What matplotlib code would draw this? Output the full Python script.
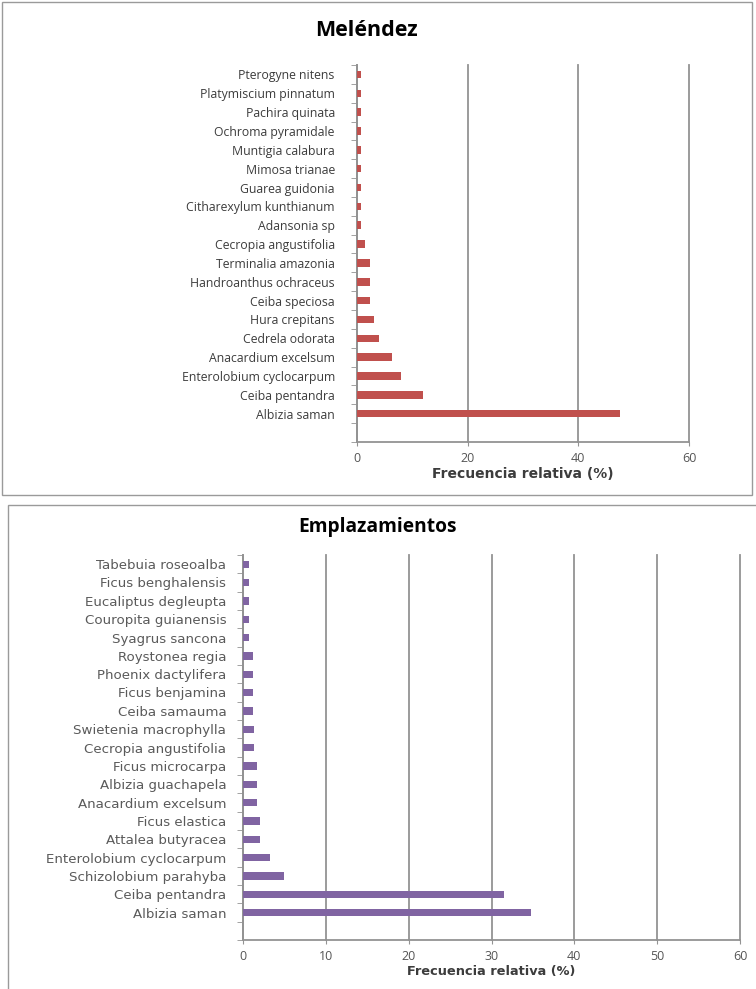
import numpy as np
import matplotlib
matplotlib.use("Agg")
import matplotlib.pyplot as plt
from matplotlib.patches import Rectangle

plt.rcParams['font.family'] = ['Open Sans', 'DejaVu Sans']

# Meléndez (de abajo hacia arriba)
melendez_especies = [
    "Albizia saman", "Ceiba pentandra", "Enterolobium cyclocarpum",
    "Anacardium excelsum", "Cedrela odorata", "Hura crepitans",
    "Ceiba speciosa", "Handroanthus ochraceus", "Terminalia amazonia",
    "Cecropia angustifolia", "Adansonia sp", "Citharexylum kunthianum",
    "Guarea guidonia", "Mimosa trianae", "Muntigia calabura",
    "Ochroma pyramidale", "Pachira quinata", "Platymiscium pinnatum",
    "Pterogyne nitens",
]
melendez_frec = [47.6, 11.9, 7.9, 6.4, 4.0, 3.1, 2.4, 2.4, 2.4,
                 1.5, 0.8, 0.8, 0.8, 0.8, 0.8, 0.8, 0.8, 0.8, 0.8]

# Emplazamientos (de abajo hacia arriba)
empl_especies = [
    "Albizia saman", "Ceiba pentandra", "Schizolobium parahyba",
    "Enterolobium cyclocarpum", "Attalea butyracea", "Ficus elastica",
    "Anacardium excelsum", "Albizia guachapela", "Ficus microcarpa",
    "Cecropia angustifolia", "Swietenia macrophylla", "Ceiba samauma",
    "Ficus benjamina", "Phoenix dactylifera", "Roystonea regia",
    "Syagrus sancona", "Couropita guianensis", "Eucaliptus degleupta",
    "Ficus benghalensis", "Tabebuia roseoalba",
]
empl_frec = [34.8, 31.5, 4.9, 3.3, 2.0, 2.0, 1.7, 1.7, 1.7,
             1.3, 1.3, 1.2, 1.2, 1.2, 1.2, 0.7, 0.7, 0.7, 0.7, 0.7]

W, H = 756, 989
fig = plt.figure(figsize=(W / 100, H / 100), dpi=100)

TEXT = '#3c3c3c'
GRID = '#939393'


def panel(ax, especies, frec, color, titulo, xticks, title_xy, title_fs,
          xlabel_y, lab_fs, fs, fam, txt_color, pad):
    y = np.arange(len(especies))
    ax.barh(y, frec, height=0.4, color=color, zorder=3)
    ax.set_xlim(0, xticks[-1])
    ax.set_ylim(-1.5, len(especies) - 0.5)
    ax.set_xticks(xticks)
    ax.set_xticklabels([str(t) for t in xticks], fontsize=9, color='#555555')
    ax.set_yticks(y)
    ax.set_yticklabels(especies, fontsize=fs, color=txt_color, family=fam)
    ax.set_yticks(np.arange(-1.5, len(especies), 1.0), minor=True)
    ax.tick_params(axis='y', which='major', length=0, pad=pad)
    ax.tick_params(axis='y', which='minor', length=4, color=GRID)
    ax.tick_params(axis='x', length=3, color=GRID, pad=4)
    ax.grid(axis='x', color=GRID, linewidth=1.3, zorder=0)
    for gl in ax.get_xgridlines():
        gl.set_clip_on(False)
    for s in ['top', 'right']:
        ax.spines[s].set_visible(False)
    for s in ['left', 'bottom']:
        ax.spines[s].set_color(GRID)
        ax.spines[s].set_linewidth(1.3)
    fig.text(title_xy[0] / W, 1 - title_xy[1] / H, titulo, ha='center', va='center',
             fontsize=title_fs, fontweight='bold', color='black')
    pos = ax.get_position()
    fig.text((pos.x0 + pos.x1) / 2, 1 - xlabel_y / H, "Frecuencia relativa (%)",
             ha='center', va='center', fontsize=lab_fs, fontweight='bold',
             color=TEXT, family='DejaVu Sans')


# marcos de los paneles
fig.patches.append(Rectangle((2 / W, 1 - 495 / H), 750 / W, 493 / H,
                             transform=fig.transFigure, fill=False,
                             edgecolor='#9a9a9a', linewidth=1.0))
fig.patches.append(Rectangle((8 / W, 1 - 1000 / H), 760 / W, 495 / H,
                             transform=fig.transFigure, fill=False,
                             edgecolor='#9a9a9a', linewidth=1.0))

ax1 = fig.add_axes([357 / W, 1 - 442 / H, 332 / W, 377 / H])
panel(ax1, melendez_especies, melendez_frec, '#C0504D', "Meléndez",
      [0, 20, 40, 60], (366, 30), 15.5, 474, 10.0, 8.8, 'Open Sans', TEXT, 16)

ax2 = fig.add_axes([243 / W, 1 - 940 / H, 497 / W, 385 / H])
panel(ax2, empl_especies, empl_frec, '#8064A2', "Emplazamientos",
      [0, 10, 20, 30, 40, 50, 60], (378, 527), 13.8, 972, 9.3,
      9.6, 'DejaVu Sans', '#5a5a5a', 12)

fig.savefig("out.png", dpi=100)
